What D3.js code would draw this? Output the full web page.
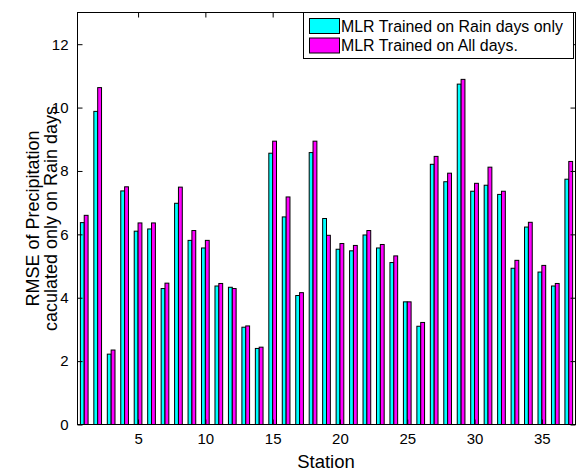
<!DOCTYPE html>
<html>
<head>
<meta charset="utf-8">
<script src="https://cdn.jsdelivr.net/npm/d3@7/dist/d3.min.js"></script>
<style>
  html, body { margin: 0; padding: 0; background: #fff; }
  svg { display: block; font-family: "Liberation Sans", Arial, sans-serif; }
</style>
</head>
<body>
<svg id="chart" width="580" height="472"></svg>
<script>
// RMSE per station for the two MLR training setups
const stations = d3.range(1, 38);
const rainOnly = [6.37, 9.88, 2.22, 7.37, 6.10, 6.17, 4.29, 6.98, 5.81, 5.57,
                  4.37, 4.33, 3.07, 2.40, 8.56, 6.55, 4.07, 8.58, 6.50, 5.53,
                  5.48, 5.98, 5.57, 5.11, 3.87, 3.10, 8.21, 7.66, 10.74, 7.36,
                  7.55, 7.26, 4.93, 6.23, 4.81, 4.37, 7.74];
const allDays  = [6.60, 10.63, 2.35, 7.50, 6.36, 6.36, 4.46, 7.49, 6.12, 5.81,
                  4.45, 4.29, 3.11, 2.44, 8.94, 7.18, 4.16, 8.94, 5.97, 5.71,
                  5.65, 6.12, 5.68, 5.32, 3.87, 3.22, 8.46, 7.93, 10.89, 7.61,
                  8.12, 7.36, 5.18, 6.38, 5.02, 4.45, 8.30];
const seriesNames = ["MLR Trained on Rain days only", "MLR Trained on All days."];
const seriesColors = ["#00ffff", "#ff00ff"];
const xTicks = [5, 10, 15, 20, 25, 30, 35];
const yTicks = [0, 2, 4, 6, 8, 10, 12];

const svg = d3.select("#chart");
const plotL = 77.5, plotR = 575.5, plotT = 12.5, plotB = 424.5;

const x = d3.scaleLinear().domain([0.5, 37.5]).range([plotL, plotR]);
const y = d3.scaleLinear().domain([0, 13]).range([plotB, plotT]);

// grouped bars: two adjacent bars per station
const barW = 2 / 3.5 / 2; // in station units
const series = [rainOnly, allDays];
series.forEach((vals, si) => {
  svg.append("g")
    .selectAll("rect")
    .data(stations)
    .join("rect")
    .attr("x", d => x(d - barW + si * barW))
    .attr("width", d => x(d + barW) - x(d))
    .attr("y", (d, i) => y(vals[i]))
    .attr("height", (d, i) => y(0) - y(vals[i]))
    .attr("fill", seriesColors[si])
    .attr("stroke", "#000")
    .attr("stroke-width", 1);
});

// axes with inward ticks on all four sides
const tickLen = 5;
const axisFont = "15px";
const styleText = g => g.selectAll("text")
  .attr("font-size", axisFont).attr("fill", "#000")
  .attr("font-family", "Liberation Sans, Arial, sans-serif");
svg.append("g")
  .attr("transform", `translate(0,${plotB})`)
  .call(d3.axisBottom(x).tickValues(xTicks).tickSize(-tickLen).tickPadding(9))
  .call(g => g.select(".domain").remove())
  .call(styleText);
svg.append("g")
  .attr("transform", `translate(0,${plotT})`)
  .call(d3.axisTop(x).tickValues(xTicks).tickSize(-tickLen).tickFormat(""))
  .call(g => g.select(".domain").remove());
svg.append("g")
  .attr("transform", `translate(${plotL},0)`)
  .call(d3.axisLeft(y).tickValues(yTicks).tickSize(-tickLen).tickPadding(9))
  .call(g => g.select(".domain").remove())
  .call(styleText);
svg.append("g")
  .attr("transform", `translate(${plotR},0)`)
  .call(d3.axisRight(y).tickValues(yTicks).tickSize(-tickLen).tickFormat(""))
  .call(g => g.select(".domain").remove());

// plot box
svg.append("rect")
  .attr("x", plotL).attr("y", plotT)
  .attr("width", plotR - plotL).attr("height", plotB - plotT)
  .attr("fill", "none").attr("stroke", "#000").attr("stroke-width", 1);

// axis titles
svg.append("text")
  .attr("x", (plotL + plotR) / 2 - 0.5).attr("y", 468)
  .attr("text-anchor", "middle").attr("font-size", "18.5px").attr("fill", "#000")
  .text("Station");
const yTitle = svg.append("text")
  .attr("transform", `translate(39,${(plotT + plotB) / 2}) rotate(-90)`)
  .attr("text-anchor", "middle").attr("font-size", "18px").attr("fill", "#000");
yTitle.append("tspan").attr("x", 0).attr("y", 0).text("RMSE of Precipitation");
yTitle.append("tspan").attr("x", 0).attr("y", 18).text("caculated only on Rain days");

// legend: text size chosen so the longest entry spans the box
const lg = svg.append("g");
lg.append("rect")
  .attr("x", 303.5).attr("y", 12.5).attr("width", 270).attr("height", 46)
  .attr("fill", "#fff").attr("stroke", "#000").attr("stroke-width", 1);
const labels = seriesNames.map((name, i) => {
  lg.append("rect")
    .attr("x", 309.5).attr("y", 18.5 + i * 19.5).attr("width", 30).attr("height", 15)
    .attr("fill", seriesColors[i]).attr("stroke", "#000").attr("stroke-width", 1);
  return lg.append("text")
    .attr("x", 341).attr("y", 31.5 + i * 19.5)
    .attr("font-size", "16px").attr("fill", "#000")
    .text(name);
});
const w0 = labels[0].node().getComputedTextLength();
if (w0 > 0) {
  const fs = Math.max(15, Math.min(17, 16 * 222 / w0));
  labels.forEach(t => t.attr("font-size", fs + "px"));
}
</script>
</body>
</html>
